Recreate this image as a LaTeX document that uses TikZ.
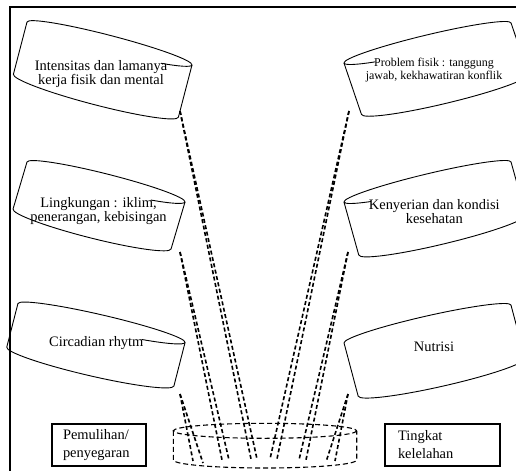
\documentclass[tikz,border=0pt]{standalone}
\usepackage{fontspec}
\setmainfont{Liberation Serif}
\begin{document}
\begin{tikzpicture}[x=1bp,y=-1bp,
  cyl/.style={line width=0.9bp, line join=round},
  conn/.style={line width=1.6bp, dash pattern=on 4bp off 2.5bp},
  dcyl/.style={line width=1.1bp, dash pattern=on 5bp off 3bp},
  frameline/.style={line width=2bp},
  lbl/.style={font=\fontsize{14.5}{14.5}\selectfont, align=center, inner sep=0pt},
  slbl/.style={font=\fontsize{12}{12.7}\selectfont, align=center, inner sep=0pt},
  boxnode/.style={draw, line width=2bp, minimum height=42bp, align=left,
    font=\fontsize{14.5}{18}\selectfont, inner ysep=0pt}
]
\useasboundingbox (0,0) rectangle (516,471);

% frame
\draw[frameline] (10,471) -- (10,7) -- (516,7);

% left cylinders
\begin{scope}[shift={(109.5,43.5)}, rotate=-14.6]
  \draw[cyl] (-85.25,0) arc[start angle=180, end angle=360, x radius=85.25, y radius=8]
    -- (85.25,54) arc[start angle=0, end angle=180, x radius=85.25, y radius=9] -- cycle;
  \draw[cyl] (85.25,0) arc[start angle=0, end angle=50, x radius=85.25, y radius=8];
\end{scope}
\begin{scope}[shift={(106,182)}, rotate=-14.2]
  \draw[cyl] (-81.5,0) arc[start angle=180, end angle=360, x radius=81.5, y radius=8]
    -- (79.5,49) arc[start angle=0, end angle=180, x radius=81.5, y radius=9] -- cycle;
  \draw[cyl] (81.5,0) arc[start angle=0, end angle=54, x radius=81.5, y radius=8];
\end{scope}
\begin{scope}[shift={(101.5,323)}, rotate=-13.1]
  \draw[cyl] (-85.8,0) arc[start angle=180, end angle=360, x radius=85.8, y radius=8]
    -- (84.8,45) arc[start angle=0, end angle=180, x radius=85.8, y radius=9] -- cycle;
  \draw[cyl] (85.8,0) arc[start angle=0, end angle=60, x radius=85.8, y radius=8];
\end{scope}

% right cylinders
\begin{scope}[shift={(427.5,43)}, rotate=13.5]
  \draw[cyl] (-85.9,0) arc[start angle=180, end angle=360, x radius=85.9, y radius=8]
    -- (90.9,54) arc[start angle=0, end angle=180, x radius=85.9, y radius=9] -- cycle;
  \draw[cyl] (-85.9,0) arc[start angle=180, end angle=130, x radius=85.9, y radius=8];
\end{scope}
\begin{scope}[shift={(427.5,182)}, rotate=13.5]
  \draw[cyl] (-85.9,0) arc[start angle=180, end angle=360, x radius=85.9, y radius=8]
    -- (87.9,55) arc[start angle=0, end angle=180, x radius=85.9, y radius=9] -- cycle;
  \draw[cyl] (-85.9,0) arc[start angle=180, end angle=134, x radius=85.9, y radius=8];
\end{scope}
\begin{scope}[shift={(427.5,324)}, rotate=12.8]
  \draw[cyl] (-85.6,0) arc[start angle=180, end angle=360, x radius=85.6, y radius=8]
    -- (87.6,55) arc[start angle=0, end angle=180, x radius=85.6, y radius=9] -- cycle;
\end{scope}

% labels
\node[lbl] (tL1) at (101,74) {Intensitas dan lamanya\\kerja fisik dan mental};
\node[lbl] (tL2) at (98.5,211.3) {Lingkungan : iklim,\\penerangan, kebisingan};
\node[lbl] (tL3) at (96.3,343) {Circadian rhytm};
\node[slbl] (tR1) at (434,70) {Problem fisik : tanggung\\jawab, kekhawatiran konflik};
\node[lbl] (tR2) at (434.3,211.5) {Kenyerian dan kondisi\\kesehatan};
\node[lbl] (tR3) at (434,346.7) {Nutrisi};

% boxes
\node[boxnode, text width=72bp, inner xsep=11bp] (pem) at (99,445) {Pemulihan/\\penyegaran};
\node[boxnode, text width=89bp, inner xsep=13bp] (tkt) at (442.5,445) {Tingkat\\kelelahan};

% dashed cylinder at the bottom
\draw[dcyl] (265,430.8) ellipse [x radius=91.7, y radius=7.5];
\draw[dcyl] (173.3,430.8) -- (173.3,460)
  arc[start angle=180, end angle=0, x radius=91.7, y radius=8] -- (356.7,430.8);

% connector end points
\coordinate (sL1) at (180,111);
\coordinate (eL1a) at (251,459);
\coordinate (eL1b) at (257,459);
\coordinate (sL2) at (180,252);
\coordinate (eL2a) at (222,460);
\coordinate (eL2b) at (229,460);
\coordinate (sL3) at (180,394);
\coordinate (eL3a) at (193,461);
\coordinate (eL3b) at (203,463);
\coordinate (sR1) at (349,111);
\coordinate (eR1a) at (270,459);
\coordinate (eR1b) at (277,459);
\coordinate (sR2) at (348,252);
\coordinate (eR2a) at (299,460);
\coordinate (eR2b) at (306,460);
\coordinate (sR3) at (348,394);
\coordinate (eR3a) at (326,462);
\coordinate (eR3b) at (335,461);

\draw[conn] (sL1) -- (eL1a);
\draw[conn] (sL1) -- (eL1b);
\draw[conn] (sL2) -- (eL2a);
\draw[conn] (sL2) -- (eL2b);
\draw[conn] (sL3) -- (eL3a);
\draw[conn] (sL3) -- (eL3b);
\draw[conn] (sR1) -- (eR1a);
\draw[conn] (sR1) -- (eR1b);
\draw[conn] (sR2) -- (eR2a);
\draw[conn] (sR2) -- (eR2b);
\draw[conn] (sR3) -- (eR3a);
\draw[conn] (sR3) -- (eR3b);
\end{tikzpicture}
\end{document}
